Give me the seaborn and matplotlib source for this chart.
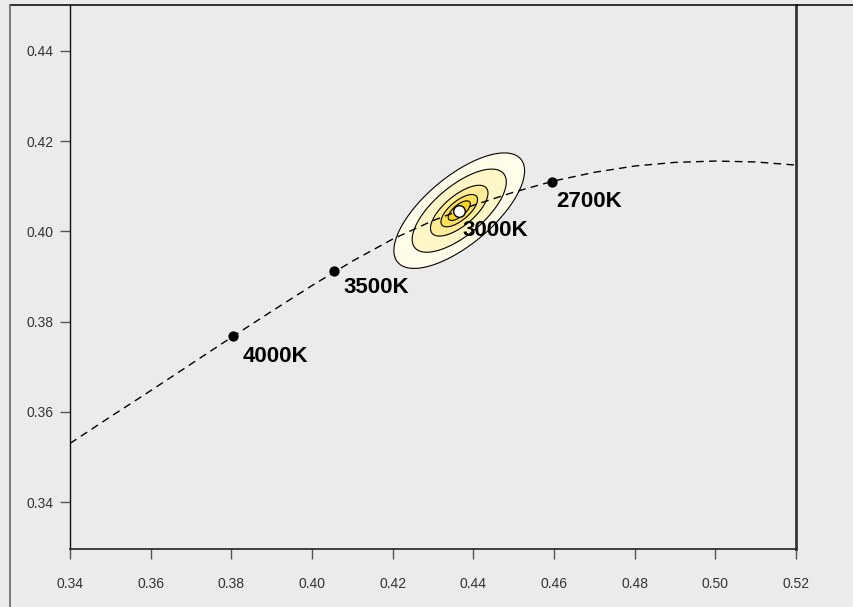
import numpy as np
import pandas as pd
import matplotlib
matplotlib.use("Agg")
import matplotlib.pyplot as plt
from matplotlib.lines import Line2D
import seaborn as sns

# ---- data ----
locus_x = [0.34, 0.35, 0.36, 0.37, 0.38, 0.39, 0.40, 0.41, 0.42, 0.43,
           0.44, 0.45, 0.46, 0.47, 0.48, 0.49, 0.50, 0.51, 0.52]
locus_y = [0.3530, 0.3589, 0.3647, 0.3706, 0.3765, 0.3823, 0.3880, 0.3934, 0.3983, 0.4024,
           0.4058, 0.4087, 0.4112, 0.4131, 0.4145, 0.4153, 0.4156, 0.4154, 0.4147]

cct_labels = ["4000K", "3500K", "3000K", "2700K"]
cct_x = [0.3805, 0.4055, 0.4365, 0.4594]
cct_y = [0.3768, 0.3912, 0.4046, 0.4110]

# distribution of measured chromaticities (bivariate normal)
dist_center = [0.4365, 0.4046]
dist_sd = [0.0081, 0.0064]
dist_rho = 0.69
contour_radii = [2.0, 1.44, 0.88, 0.56, 0.34]   # Mahalanobis radii of contour lines

x_ticks = [0.34, 0.36, 0.38, 0.40, 0.42, 0.44, 0.46, 0.48, 0.50, 0.52]
y_ticks = [0.34, 0.36, 0.38, 0.40, 0.42, 0.44]

# ---- styling ----
sns.set_theme(style="white")
plt.rcParams["font.family"] = ["Liberation Sans", "DejaVu Sans"]
bg = "#ebebeb"

fig = plt.figure(figsize=(8.54, 6.07), dpi=100, facecolor=bg)
ax = fig.add_axes([0.0820, 0.0956, 0.8501, 0.8962])
ax.set_facecolor(bg)

# contour surface
gx = np.linspace(0.39, 0.49, 500)
gy = np.linspace(0.36, 0.45, 500)
GX, GY = np.meshgrid(gx, gy)
dx = (GX - dist_center[0]) / dist_sd[0]
dy = (GY - dist_center[1]) / dist_sd[1]
m2 = (dx**2 - 2 * dist_rho * dx * dy + dy**2) / (1 - dist_rho**2)
Z = np.exp(-0.5 * m2)
levels = [float(np.exp(-0.5 * r**2)) for r in contour_radii] + [1.01]
fill_colors = ["#fffdea", "#fef6c6", "#feed98", "#fbe05a", "#f6d31c"]
ax.contourf(GX, GY, Z, levels=levels, colors=fill_colors, zorder=1)
ax.contour(GX, GY, Z, levels=levels[:-1], colors="black", linewidths=0.8, zorder=2)

# locus curve
locus = pd.DataFrame({"x": locus_x, "y": locus_y})
sns.lineplot(data=locus, x="x", y="y", ax=ax, color="black", lw=1.0,
             sort=False, zorder=3)
ax.lines[-1].set_dashes((5.5, 3.8))

# CCT points
pts = pd.DataFrame({"x": cct_x, "y": cct_y, "label": cct_labels})
sns.scatterplot(data=pts, x="x", y="y", ax=ax, color="black", s=55,
                edgecolor="black", linewidth=0, zorder=4, legend=False)
# centre of the distribution
ax.scatter([dist_center[0]], [dist_center[1]], s=70, facecolor="white",
           edgecolor="black", linewidth=1.0, zorder=5)

offsets = {"4000K": (7, -14.5), "3500K": (6.5, -12), "3000K": (2, -14.5), "2700K": (3.5, -14)}
for lab, x, y in zip(cct_labels, cct_x, cct_y):
    ax.annotate(lab, (x, y), xytext=offsets[lab], textcoords="offset points",
                ha="left", va="center", fontsize=16, fontweight="bold",
                color="black", zorder=6)

ax.set_xlim(0.34, 0.52)
ax.set_ylim(0.3296, 0.4502)
ax.set_xticks(x_ticks)
ax.set_yticks(y_ticks)
ax.set_xticklabels([f"{v:.2f}" for v in x_ticks])
ax.set_yticklabels([f"{v:.2f}" for v in y_ticks])
ax.set_xlabel("")
ax.set_ylabel("")
ax.tick_params(axis="x", length=7, width=1, color="#555555", pad=13.5,
               labelsize=10, labelcolor="#333333", bottom=True, direction="out")
ax.tick_params(axis="y", length=7, width=1, color="#555555", pad=5,
               labelsize=10, labelcolor="#333333", left=True, direction="out")

for side in ["left", "bottom", "right"]:
    ax.spines[side].set_visible(True)
ax.spines["top"].set_visible(False)
ax.spines["left"].set_color("#111111")
ax.spines["left"].set_linewidth(1.0)
ax.spines["bottom"].set_color("#222222")
ax.spines["bottom"].set_linewidth(1.2)
ax.spines["right"].set_color("#333333")
ax.spines["right"].set_linewidth(2.0)

# outer frame (top and left edges)
W, H = 854.0, 607.0
fig.add_artist(Line2D([10 / W, 1.0], [1 - 5 / H, 1 - 5 / H],
                      transform=fig.transFigure, color="#111111", lw=1.2))
fig.add_artist(Line2D([10 / W, 10 / W], [0.0, 1 - 5 / H],
                      transform=fig.transFigure, color="#666666", lw=1.2))

fig.savefig("out.png", dpi=100, facecolor=bg)
